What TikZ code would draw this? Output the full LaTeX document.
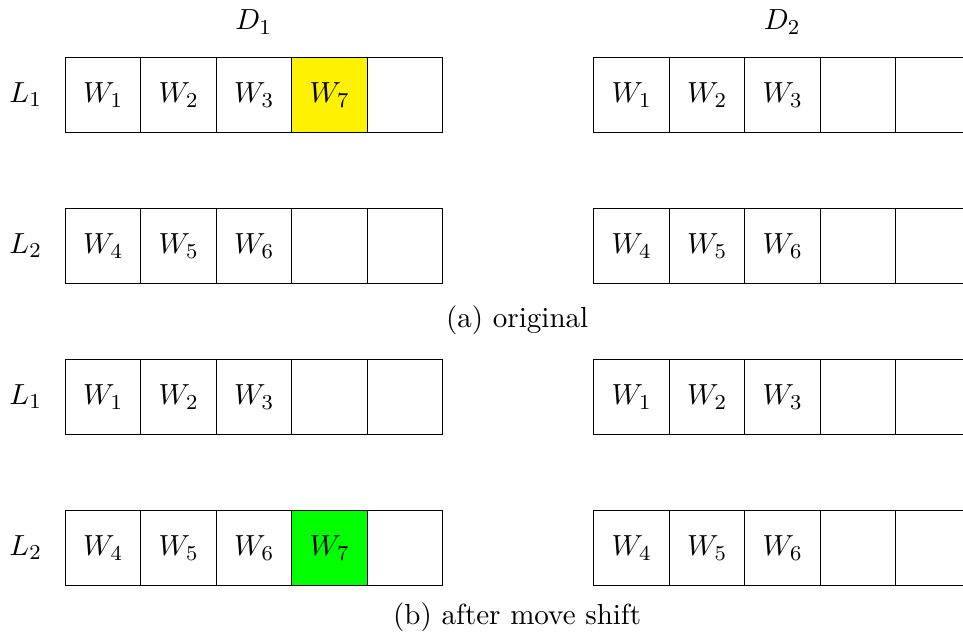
\documentclass[tikz,border=0pt]{standalone}
\usetikzlibrary{positioning}

\tikzset{
  every node/.style={font=\fontsize{10.95}{13.6}\selectfont},
  cell/.style={draw, minimum width=1cm, minimum height=1cm, inner sep=0pt, anchor=north west},
  rowlabel/.style={inner sep=0pt},
  headlabel/.style={inner sep=0pt},
  caption/.style={inner sep=0pt}
}

% \slotrow{name}{x}{y}{c1}{c2}{c3}{c4}{c5}{fill of 4th cell}
\newcommand{\slotrow}[9]{%
  \node[cell] (#1-1) at (#2,#3) {#4};
  \node[cell] (#1-2) at (#2+1,#3) {#5};
  \node[cell] (#1-3) at (#2+2,#3) {#6};
  \node[cell, fill=#9] (#1-4) at (#2+3,#3) {#7};
  \node[cell] (#1-5) at (#2+4,#3) {#8};
}

\begin{document}
\begin{tikzpicture}
  \useasboundingbox (0,0) rectangle (12.755,-8.45);
  \clip (0,0) rectangle (12.755,-8.45);

  % disk headers
  \node[headlabel] (d1) at (3.36,-0.29) {$D_1$};
  \node[headlabel] (d2) at (10.36,-0.29) {$D_2$};

  % (a) original
  \slotrow{a1l}{0.86}{-0.75}{$W_1$}{$W_2$}{$W_3$}{$W_7$}{}{yellow}
  \slotrow{a2l}{0.86}{-2.75}{$W_4$}{$W_5$}{$W_6$}{}{}{white}
  \slotrow{a1r}{7.86}{-0.75}{$W_1$}{$W_2$}{$W_3$}{}{}{white}
  \slotrow{a2r}{7.86}{-2.75}{$W_4$}{$W_5$}{$W_6$}{}{}{white}
  \node[rowlabel] (la1) at (0.34,-1.25) {$L_1$};
  \node[rowlabel] (la2) at (0.34,-3.25) {$L_2$};
  \node[caption] (capa) at (6.85,-4.24) {(a) original};

  % (b) after move shift
  \slotrow{b1l}{0.86}{-4.75}{$W_1$}{$W_2$}{$W_3$}{}{}{white}
  \slotrow{b2l}{0.86}{-6.75}{$W_4$}{$W_5$}{$W_6$}{$W_7$}{}{green}
  \slotrow{b1r}{7.86}{-4.75}{$W_1$}{$W_2$}{$W_3$}{}{}{white}
  \slotrow{b2r}{7.86}{-6.75}{$W_4$}{$W_5$}{$W_6$}{}{}{white}
  \node[rowlabel] (lb1) at (0.34,-5.25) {$L_1$};
  \node[rowlabel] (lb2) at (0.34,-7.25) {$L_2$};
  \node[caption] (capb) at (6.85,-8.18) {(b) after move shift};
\end{tikzpicture}
\end{document}
